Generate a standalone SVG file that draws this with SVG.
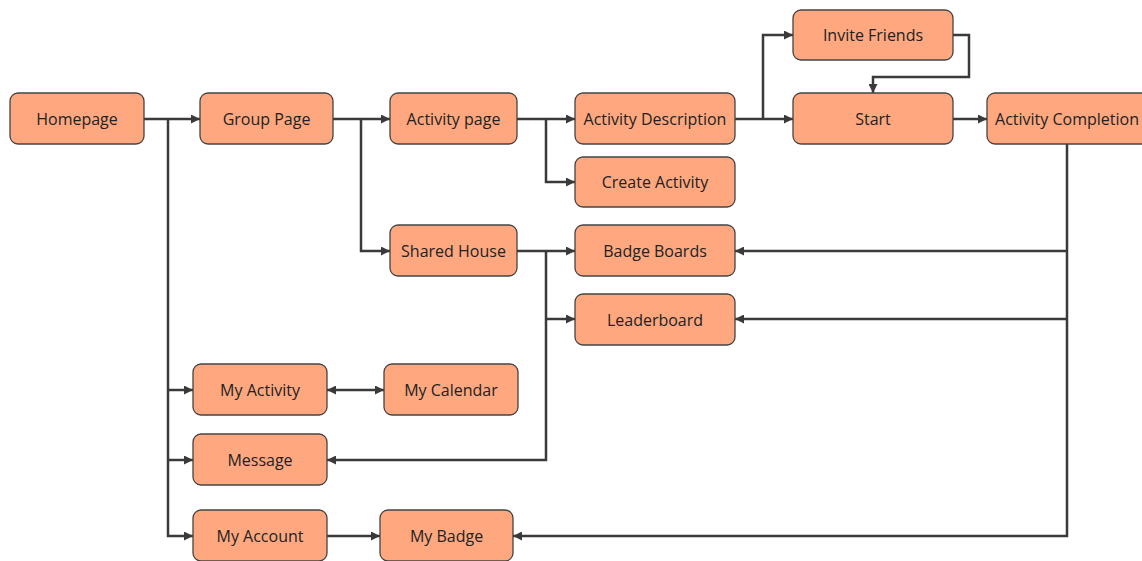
<svg xmlns="http://www.w3.org/2000/svg" width="1142" height="561" viewBox="0 0 1142 561">
<style>
.n rect{fill:#FFA880;stroke:#444;stroke-width:1.3}
.n text{font-family:"Open Sans","Noto Sans",sans-serif;font-size:16px;fill:#222;text-anchor:middle;dominant-baseline:central}
.c path{fill:none;stroke:#3a3a3a;stroke-width:2.5}
</style>
<defs>
<marker id="a" viewBox="0 0 10 10" refX="10" refY="5" markerWidth="9" markerHeight="9" markerUnits="userSpaceOnUse" orient="auto-start-reverse">
<path d="M0,0 L10,5 L0,10 z" fill="#3a3a3a"/>
</marker>
</defs>
<rect width="1142" height="561" fill="#fff"/>
<g class="c" id="connectors">
<path d="M144,119 H200" marker-end="url(#a)"/>
<path d="M168,119 V536 H193" marker-end="url(#a)"/>
<path d="M168,390 H193" marker-end="url(#a)"/>
<path d="M168,460 H193" marker-end="url(#a)"/>
<path d="M333,119 H390" marker-end="url(#a)"/>
<path d="M361,119 V251 H390" marker-end="url(#a)"/>
<path d="M517,119 H575" marker-end="url(#a)"/>
<path d="M546,119 V182 H575" marker-end="url(#a)"/>
<path d="M735,119 H793" marker-end="url(#a)"/>
<path d="M763,119 V35 H793" marker-end="url(#a)"/>
<path d="M953,35 H969 V77 H873 V93" marker-end="url(#a)"/>
<path d="M953,119 H987" marker-end="url(#a)"/>
<path d="M1067,144 V536 H513" marker-end="url(#a)"/>
<path d="M1067,251 H735" marker-end="url(#a)"/>
<path d="M1067,319 H735" marker-end="url(#a)"/>
<path d="M517,251 H575" marker-end="url(#a)"/>
<path d="M546,251 V460 H327" marker-end="url(#a)"/>
<path d="M546,319 H575" marker-end="url(#a)"/>
<path d="M327,390 H384" marker-start="url(#a)" marker-end="url(#a)"/>
<path d="M327,536 H380" marker-end="url(#a)"/>
</g>
<g class="n" id="homepage"><rect x="10" y="93" width="134" height="51" rx="8"/><text x="77" y="119">Homepage</text></g>
<g class="n" id="group-page"><rect x="200" y="93" width="133" height="51" rx="8"/><text x="266.5" y="119">Group Page</text></g>
<g class="n" id="activity-page"><rect x="390" y="93" width="127" height="51" rx="8"/><text x="453.5" y="119">Activity page</text></g>
<g class="n" id="activity-description"><rect x="575" y="93" width="160" height="51" rx="8"/><text x="655" y="119">Activity Description</text></g>
<g class="n" id="create-activity"><rect x="575" y="157" width="160" height="50" rx="8"/><text x="655" y="182">Create Activity</text></g>
<g class="n" id="invite-friends"><rect x="793" y="10" width="160" height="50" rx="8"/><text x="873" y="35">Invite Friends</text></g>
<g class="n" id="start"><rect x="793" y="93" width="160" height="51" rx="8"/><text x="873" y="119">Start</text></g>
<g class="n" id="activity-completion"><rect x="987" y="93" width="164" height="51" rx="8"/><text x="1067" y="119">Activity Completion</text></g>
<g class="n" id="shared-house"><rect x="390" y="225" width="127" height="51" rx="8"/><text x="453.5" y="251">Shared House</text></g>
<g class="n" id="badge-boards"><rect x="575" y="225" width="160" height="51" rx="8"/><text x="655" y="251">Badge Boards</text></g>
<g class="n" id="leaderboard"><rect x="575" y="294" width="160" height="51" rx="8"/><text x="655" y="319.5">Leaderboard</text></g>
<g class="n" id="my-activity"><rect x="193" y="364" width="134" height="51" rx="8"/><text x="260" y="390">My Activity</text></g>
<g class="n" id="my-calendar"><rect x="384" y="364" width="134" height="51" rx="8"/><text x="451" y="390">My Calendar</text></g>
<g class="n" id="message"><rect x="193" y="434" width="134" height="51" rx="8"/><text x="260" y="460">Message</text></g>
<g class="n" id="my-account"><rect x="193" y="510" width="134" height="51" rx="8"/><text x="260" y="536">My Account</text></g>
<g class="n" id="my-badge"><rect x="380" y="510" width="133" height="51" rx="8"/><text x="446.5" y="536">My Badge</text></g>
</svg>
